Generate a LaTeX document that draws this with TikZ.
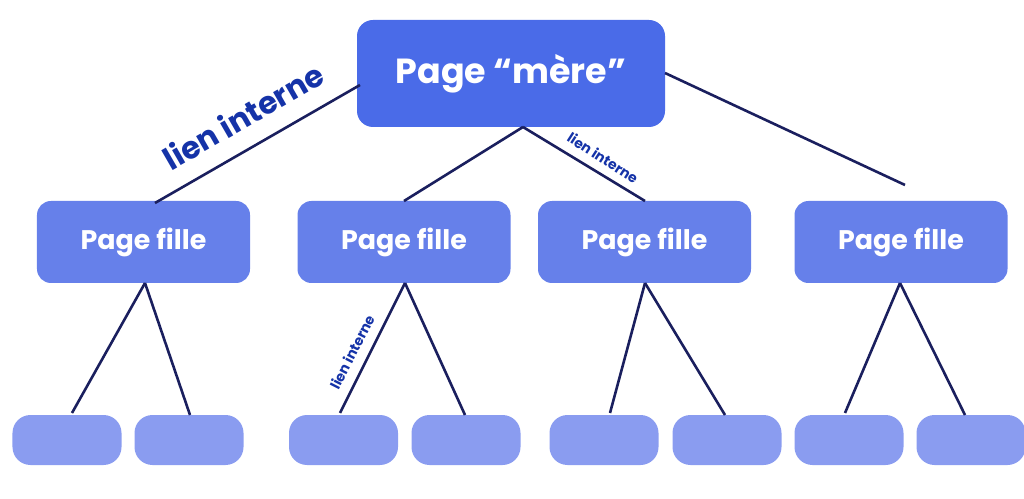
\documentclass[tikz,border=0pt]{standalone}
\usepackage{fontspec}
\setmainfont{Poppins}
\begin{document}
\begin{tikzpicture}[x=1bp,y=-1bp,
  top/.style={fill=c1,rounded corners=16bp,inner sep=0pt,text=white,font=\bfseries\fontsize{35}{40}\selectfont},
  fille/.style={fill=c2,rounded corners=14bp,inner sep=0pt,text=white,font=\bfseries\fontsize{27}{30}\selectfont},
  leaf/.style={fill=c3,rounded corners=18bp,inner sep=0pt},
  ln/.style={draw=c4,line width=2.6bp},
  lbl/.style={text=c5,font=\bfseries}]
\definecolor{c1}{HTML}{4A6BE8}
\definecolor{c2}{HTML}{6680EA}
\definecolor{c3}{HTML}{8A9CF0}
\definecolor{c4}{HTML}{1A1F5E}
\definecolor{c5}{HTML}{1533A8}
\useasboundingbox (0,0) rectangle (1024,499);
\node[top,minimum width=308bp,minimum height=107bp] (m) at (511,73.5) {Page “mère”};
\foreach \n/\x in {f1/143.5,f2/404,f3/644.5,f4/901}
  \node[fille,minimum width=213bp,minimum height=82bp] (\n) at (\x,242) {Page fille};
\foreach \n/\x in {l1/67,l2/189,l3/343.5,l4/466,l5/604,l6/727,l7/849,l8/971}
  \node[leaf,minimum width=109bp,minimum height=50bp] (\n) at (\x,440) {};
\coordinate (m1) at (360,85); \coordinate (m2) at (523,127);
\coordinate (m3) at (665,73); \coordinate (e4) at (905,185);
\draw[ln] (m1) -- (155,203);
\draw[ln] (m2) -- (404,201);
\draw[ln] (m2) -- (645,201);
\draw[ln] (m3) -- (e4);
\foreach \f/\x/\a/\ax/\b/\bx in {f1/145/l1/72/l2/190, f2/405/l3/340/l4/465, f3/645/l5/610/l6/725, f4/900/l7/845/l8/965}{
  \draw[ln] (\x,283) -- (\ax,413);
  \draw[ln] (\x,283) -- (\bx,415);
}
\node[lbl,rotate=30,font=\bfseries\fontsize{31}{34}\selectfont] (t1) at (243,116) {lien interne};
\node[lbl,rotate=-33,font=\bfseries\fontsize{14}{16}\selectfont] (t2) at (603,158) {lien interne};
\node[lbl,rotate=63,font=\bfseries\fontsize{14}{16}\selectfont] (t3) at (352,352) {lien interne};
\end{tikzpicture}
\end{document}
